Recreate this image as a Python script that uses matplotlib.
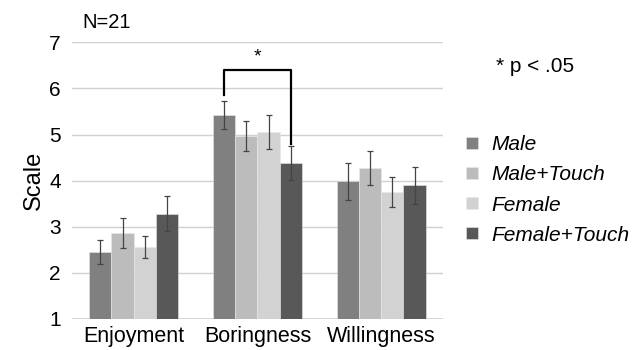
import matplotlib
matplotlib.use("Agg")
import matplotlib.pyplot as plt
import numpy as np

plt.rcParams['font.family'] = ['Liberation Sans', 'DejaVu Sans']

categories = ["Enjoyment", "Boringness", "Willingness"]
series = ["Male", "Male+Touch", "Female", "Female+Touch"]
means = {
    "Male":         [2.46, 5.42, 3.99],
    "Male+Touch":   [2.86, 4.97, 4.28],
    "Female":       [2.56, 5.05, 3.76],
    "Female+Touch": [3.28, 4.38, 3.90],
}
errors = {
    "Male":         [0.26, 0.31, 0.40],
    "Male+Touch":   [0.33, 0.32, 0.37],
    "Female":       [0.24, 0.37, 0.33],
    "Female+Touch": [0.38, 0.37, 0.40],
}
colors = {"Male": "#808080", "Male+Touch": "#bcbcbc", "Female": "#d2d2d2", "Female+Touch": "#585858"}
yticks = [1, 2, 3, 4, 5, 6, 7]

fig = plt.figure(figsize=(6.42, 3.5), dpi=100)
ax = fig.add_axes([0.112, 0.0886, 0.578, 0.7905])

x = np.arange(len(categories))
w = 0.18
handles = []
for i, s in enumerate(series):
    pos = x + (i - 1.5) * w
    b = ax.bar(pos, np.array(means[s]) - 1, bottom=1, width=w, color=colors[s],
               edgecolor='#e8e8e8', linewidth=0.4, zorder=2, label=s)
    ax.errorbar(pos, means[s], yerr=errors[s], fmt='none', ecolor='#444444',
                elinewidth=0.9, capsize=2.5, capthick=0.9, zorder=3)
    handles.append(b)

ax.set_ylim(1, 7)
ax.set_xlim(-0.5, 2.5)
ax.set_yticks(yticks)
ax.set_yticklabels([str(t) for t in yticks], fontsize=15)
ax.yaxis.grid(True, color='#d0d0d0', linewidth=1.0, zorder=0)
ax.set_axisbelow(True)
ax.tick_params(axis='both', length=0)
ax.tick_params(axis='y', pad=8)
ax.tick_params(axis='x', pad=5)
ax.set_xticks(x)
ax.set_xticklabels(categories, fontsize=15.5)
for sp in ax.spines.values():
    sp.set_visible(False)
ax.axhline(1, color='#d0d0d0', linewidth=1.2, zorder=1)
ax.set_ylabel("Scale", fontsize=17, labelpad=3)

# significance bracket
xl = 1 - 1.5 * w
xr = 1 + 1.5 * w
ax.plot([xl, xl, xr, xr], [5.86, 6.40, 6.40, 4.80], color='black', linewidth=1.6,
        zorder=4, clip_on=False)
ax.text(1 + 0.0, 6.50, "*", ha='center', va='bottom', fontsize=14)

fig.text(0.129, 0.937, "N=21", fontsize=14.5, ha='left', va='center')
fig.text(0.772, 0.809, "* p < .05", fontsize=15, ha='left', va='center')

leg = fig.legend(handles=handles, labels=series, loc='upper left',
                 bbox_to_anchor=(0.726, 0.613), frameon=False, borderpad=0,
                 borderaxespad=0,
                 prop={'style': 'italic', 'size': 15},
                 handlelength=0.55, handleheight=0.55, handletextpad=0.65,
                 labelspacing=0.53)

fig.savefig("out.png", dpi=100)
